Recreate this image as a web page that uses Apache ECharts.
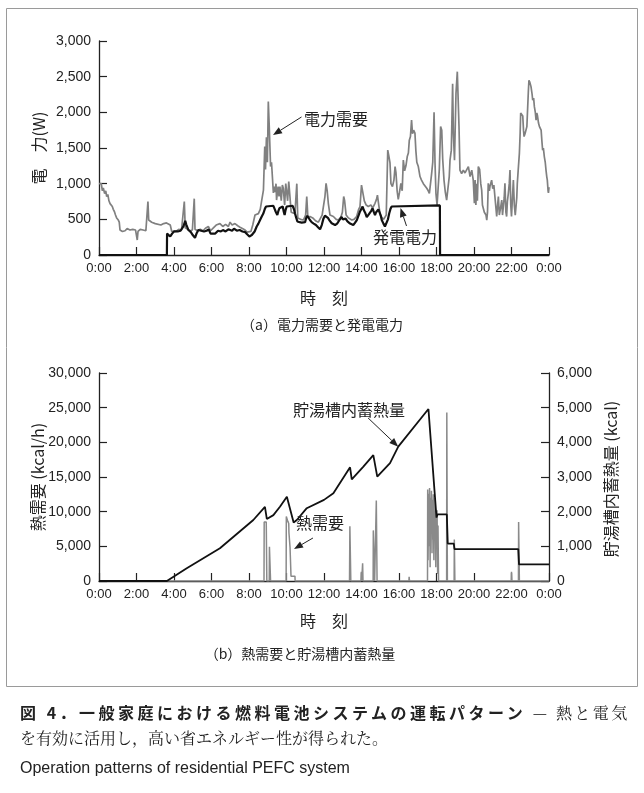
<!DOCTYPE html>
<html>
<head>
<meta charset="utf-8">
<script src="https://cdn.jsdelivr.net/npm/echarts@6/dist/echarts.min.js"></script>
<style>
  html, body { margin: 0; padding: 0; background: #fff; }
  #chart { position: absolute; left: 0; top: 0; width: 644px; height: 793px; }
  .cap { position: absolute; left: 20px; height: 20px; line-height: 20px; font-size: 16px; color: #222;
         white-space: nowrap; font-family: "Noto Sans CJK JP", "Noto Sans", sans-serif; }
  .serif { font-family: "Noto Serif CJK JP", "Noto Sans CJK JP", serif; font-weight: normal; }
  .en { font-family: "Liberation Sans", Arial, Helvetica, sans-serif; }
</style>
</head>
<body>
<div id="chart"></div>
<div class="cap" style="top:702px;"><b style="letter-spacing:3.5px;">図 4．一般家庭における燃料電池システムの運転パターン</b><span class="serif" style="letter-spacing:2.4px;"> — 熱と電気</span></div>
<div class="cap serif" style="top:728px;">を有効に活用し，高い省エネルギー性が得られた。</div>
<div class="cap en" style="top:758px;">Operation patterns of residential PEFC system</div>
<script>
// Tick labels
const timeLabels = ['0:00','2:00','4:00','6:00','8:00','10:00','12:00','14:00','16:00','18:00','20:00','22:00','0:00'];
const powerLabels = ['0','500','1,000','1,500','2,000','2,500','3,000'];
const heatLabels = ['0','5,000','10,000','15,000','20,000','25,000','30,000'];
const storageLabels = ['0','1,000','2,000','3,000','4,000','5,000','6,000'];

// (a) household power demand [hour, W]
const powerDemand = [
  [0.0,1000],[0.05,980],[0.12,1000],[0.18,900],[0.23,940],[0.3,860],[0.36,900],[0.41,820],[0.47,850],
  [0.53,760],[0.59,720],[0.65,700],[0.71,680],[0.76,640],[0.82,610],[0.88,560],[0.94,520],[1.03,490],
  [1.08,460],[1.12,350],[1.25,330],[1.39,340],[1.5,370],[1.65,350],[1.8,360],[1.95,350],[2.01,350],
  [2.04,210],[2.08,330],[2.2,360],[2.35,350],[2.5,340],[2.58,360],[2.61,750],[2.65,490],[2.75,470],
  [2.81,460],[2.9,480],[3.0,440],[3.1,430],[3.3,420],[3.45,440],[3.6,450],[3.7,430],[3.8,420],[3.88,330],
  [3.95,350],[4.1,330],[4.25,360],[4.4,350],[4.5,360],[4.55,750],[4.6,380],[4.7,360],[4.85,340],
  [4.98,350],[5.05,360],[5.08,790],[5.12,360],[5.25,340],[5.4,360],[5.55,340],[5.7,380],[5.83,400],
  [5.95,340],[6.1,380],[6.25,420],[6.45,440],[6.6,400],[6.75,430],[6.9,400],[6.99,460],[7.1,420],
  [7.25,440],[7.4,410],[7.52,390],[7.65,370],[7.79,350],[7.9,320],[8.0,300],[8.1,330],[8.2,420],
  [8.32,560],[8.5,580],[8.6,640],[8.68,770],[8.77,910],[8.84,1520],[8.88,1200],[8.93,1650],[8.98,1300],
  [9.03,2150],[9.08,1800],[9.15,1240],[9.2,1300],[9.23,1280],[9.3,870],[9.35,960],[9.39,880],[9.44,1000],
  [9.47,770],[9.55,960],[9.6,820],[9.65,960],[9.72,760],[9.78,980],[9.83,935],[9.9,700],[9.96,1000],
  [10.01,1005],[10.06,760],[10.12,1030],[10.19,1030],[10.25,600],[10.35,580],[10.45,580],[10.55,1000],
  [10.6,520],[10.75,500],[10.9,490],[11.02,560],[11.08,820],[11.14,520],[11.25,540],[11.4,520],
  [11.55,480],[11.7,460],[11.79,440],[11.9,560],[11.97,680],[12.05,820],[12.11,1005],[12.17,900],
  [12.23,725],[12.32,560],[12.5,540],[12.65,500],[12.76,490],[12.9,530],[12.98,600],[13.05,820],
  [13.1,760],[13.18,560],[13.3,520],[13.48,490],[13.6,500],[13.74,540],[13.85,640],[13.92,680],
  [14.0,980],[14.08,960],[14.15,760],[14.25,700],[14.36,680],[14.5,700],[14.6,660],[14.72,725],
  [14.8,780],[14.85,840],[14.92,700],[15.0,560],[15.08,530],[15.18,500],[15.25,490],[15.32,560],
  [15.4,1470],[15.45,1400],[15.52,1290],[15.57,1000],[15.65,960],[15.73,1050],[15.79,1240],[15.84,1150],
  [15.9,900],[15.96,780],[16.02,870],[16.1,1005],[16.17,900],[16.23,1330],[16.3,1180],[16.37,1250],
  [16.44,1380],[16.5,1430],[16.55,1610],[16.61,1660],[16.67,1890],[16.72,1700],[16.78,1750],[16.85,1710],
  [16.9,1460],[16.95,1300],[17.03,1240],[17.12,1100],[17.2,1050],[17.3,1000],[17.4,980],[17.48,935],
  [17.56,900],[17.62,865],[17.68,1000],[17.74,1140],[17.8,1300],[17.87,2000],[17.92,1300],[17.97,865],
  [18.03,700],[18.1,725],[18.15,1200],[18.22,1800],[18.28,1750],[18.33,1350],[18.4,1050],[18.47,880],
  [18.54,770],[18.63,760],[18.68,1100],[18.72,1330],[18.79,1470],[18.86,2400],[18.9,1700],[18.96,1330],
  [19.04,2270],[19.11,2570],[19.16,2560],[19.2,1800],[19.25,1190],[19.34,1140],[19.43,1190],[19.52,1150],
  [19.61,1130],[19.7,1240],[19.79,1100],[19.88,1190],[19.96,1050],[20.02,725],[20.06,1050],[20.1,700],
  [20.14,1000],[20.18,760],[20.23,1240],[20.3,1200],[20.36,1000],[20.41,910],[20.45,700],[20.5,680],
  [20.55,600],[20.59,580],[20.64,560],[20.68,490],[20.72,600],[20.76,1005],[20.82,900],[20.85,960],
  [20.94,1050],[21.0,930],[21.06,980],[21.12,960],[21.21,540],[21.26,700],[21.3,820],[21.35,560],
  [21.39,540],[21.44,700],[21.48,770],[21.52,560],[21.56,540],[21.61,800],[21.65,1005],[21.7,600],
  [21.74,540],[21.78,750],[21.83,860],[21.88,1000],[21.92,1190],[21.96,700],[22.0,540],[22.05,800],
  [22.1,1050],[22.15,700],[22.2,560],[22.24,540],[22.28,800],[22.31,1005],[22.36,1200],[22.42,1425],
  [22.46,1700],[22.49,1990],[22.55,2000],[22.6,1950],[22.64,1750],[22.67,1660],[22.72,1700],[22.77,1680],
  [22.82,1800],[22.85,1990],[22.9,2300],[22.93,2450],[22.98,2420],[23.04,2360],[23.1,2250],[23.13,2170],
  [23.18,2200],[23.22,2080],[23.27,2000],[23.31,1890],[23.35,1990],[23.38,1960],[23.44,1850],[23.49,1800],
  [23.54,1820],[23.58,1750],[23.62,1600],[23.66,1470],[23.7,1500],[23.75,1380],[23.8,1300],[23.84,1190],
  [23.88,1100],[23.91,1050],[23.95,900],[23.97,870],[24.0,950]
];

// (a) fuel cell output [hour, W]
const powerGenerated = [
  [0,0],[3.62,0],[3.63,300],[3.7,290],[3.8,260],[3.9,300],[4.0,330],[4.1,310],[4.2,330],[4.35,340],
  [4.5,400],[4.6,480],[4.65,430],[4.77,350],[4.9,320],[5.0,280],[5.12,240],[5.2,300],[5.3,350],
  [5.45,340],[5.6,330],[5.74,340],[5.85,360],[5.95,300],[6.05,280],[6.2,300],[6.35,340],[6.5,330],
  [6.61,350],[6.75,330],[6.9,360],[6.97,370],[7.1,340],[7.2,370],[7.35,340],[7.5,350],[7.65,330],
  [7.8,320],[7.9,290],[8.02,260],[8.15,280],[8.3,330],[8.41,400],[8.5,440],[8.59,490],[8.68,540],
  [8.77,585],[8.85,650],[8.91,680],[9.0,690],[9.3,690],[9.36,650],[9.42,610],[9.51,560],[9.57,620],
  [9.62,655],[9.7,630],[9.8,680],[9.85,610],[9.9,560],[9.95,630],[10.01,680],[10.1,690],[10.33,690],
  [10.4,640],[10.45,585],[10.52,520],[10.58,470],[10.7,460],[10.81,455],[10.9,460],[10.99,460],
  [11.05,520],[11.11,550],[11.18,540],[11.25,490],[11.34,460],[11.45,440],[11.57,420],[11.68,390],
  [11.79,360],[11.88,420],[11.97,510],[12.05,550],[12.14,560],[12.21,520],[12.28,490],[12.41,445],
  [12.5,430],[12.59,420],[12.7,440],[12.8,480],[12.94,535],[13.0,500],[13.07,490],[13.15,510],
  [13.25,470],[13.39,440],[13.48,430],[13.56,420],[13.65,450],[13.75,490],[13.85,560],[13.92,610],
  [14.0,650],[14.06,680],[14.12,630],[14.2,590],[14.28,530],[14.36,560],[14.45,580],[14.52,620],
  [14.59,655],[14.66,600],[14.72,560],[14.78,600],[14.85,610],[14.9,640],[14.95,655],[15.02,560],
  [15.08,490],[15.17,440],[15.25,400],[15.3,410],[15.34,420],[15.41,500],[15.48,585],[15.55,650],
  [15.61,680],[15.7,695],[18.18,695],[18.19,0],[24,0]
];

// (b) heat demand [hour, kcal/h]
const heatDemand = [
  [0,0],[8.80,0],[8.81,8500],[8.88,8600],[8.9,8300],[8.92,8500],[8.95,0],[9.08,0],[9.09,4950],[9.14,4950],
  [9.15,0],[9.98,0],[9.99,9300],[10.05,9100],[10.07,8600],[10.12,8300],[10.13,7000],[10.18,6900],
  [10.19,4800],[10.23,4700],[10.24,700],[10.45,700],[10.46,0],[13.36,0],[13.38,7900],[13.41,7900],
  [13.43,0],[13.97,0],[13.99,1340],[14.01,0],[14.05,0],[14.06,2550],[14.08,0],[14.62,0],[14.63,7300],
  [14.68,7400],[14.7,0],[14.78,0],[14.79,11600],[14.82,11600],[14.83,0],[16.53,0],[16.54,620],[16.56,0],
  [17.52,0],[17.53,13200],[17.55,3000],[17.58,12600],[17.6,5000],[17.63,13400],[17.66,2000],[17.68,12000],
  [17.7,8000],[17.73,13000],[17.76,4000],[17.78,11700],[17.8,6000],[17.83,12500],[17.86,3000],[17.88,10000],
  [17.9,7000],[17.93,12000],[17.96,2000],[17.98,9300],[18.0,5000],[18.03,10200],[18.06,1000],[18.08,8000],
  [18.11,0],[18.54,0],[18.55,24300],[18.57,24300],[18.58,0],[18.94,0],[18.95,6000],[18.97,6000],[18.98,0],
  [21.99,0],[22.0,1340],[22.02,0],[22.37,0],[22.38,8500],[22.41,8400],[22.42,0],[24,0]
];

// (b) heat stored in the hot-water tank [hour, kcal]
const storedHeat = [
  [0,0],[3.62,0],[4.68,370],[6.45,945],[8.23,1760],[8.85,2140],[8.95,1790],[9.3,1900],[9.65,2140],
  [10.02,2430],[10.38,1690],[10.55,1760],[11.08,2100],[12.0,2340],[12.5,2530],[13.39,3280],[13.48,2930],
  [14.1,3300],[14.63,3630],[14.84,3010],[15.52,3400],[15.96,3875],[17.57,4960],[18.0,1830],[18.05,1920],
  [18.55,1920],[18.6,1080],[18.92,1080],[18.96,920],[22.36,920],[22.4,480],[24,480]
];

const INK = '#222';
const NUM_FONT = '"Liberation Sans", Arial, Helvetica, sans-serif';
const JP_FONT = '"Noto Sans CJK JP", "Noto Sans", sans-serif';

function timeAxis(gridIndex) {
  return {
    gridIndex, type: 'value', min: 0, max: 24, interval: 2,
    axisLine: { show: true, onZero: false, lineStyle: { color: INK, width: 1.3 } },
    axisTick: { show: true, inside: true, length: 8, lineStyle: { color: INK, width: 1.2 } },
    axisLabel: { color: INK, fontSize: 13, fontFamily: NUM_FONT, margin: 7,
                 formatter: v => timeLabels[Math.round(v / 2)] },
    splitLine: { show: false }
  };
}
function valueAxis(gridIndex, max, step, labels, position) {
  return {
    gridIndex, type: 'value', min: 0, max, interval: step, position,
    axisLine: { show: true, lineStyle: { color: INK, width: 1.3 } },
    axisTick: { show: true, inside: true, length: 8, lineStyle: { color: INK, width: 1.2 } },
    axisLabel: { color: INK, fontSize: 14, fontFamily: NUM_FONT, margin: 8,
                 formatter: v => labels[Math.round(v / step)] },
    splitLine: { show: false }
  };
}

const chart = echarts.init(document.getElementById('chart'), null, { renderer: 'canvas' });

const option = {
  animation: false,
  backgroundColor: '#fff',
  grid: [
    { left: 99, top: 41, width: 450, height: 214 },
    { left: 99, top: 373, width: 450, height: 208 }
  ],
  xAxis: [timeAxis(0), timeAxis(1)],
  yAxis: [
    valueAxis(0, 3000, 500, powerLabels, 'left'),
    valueAxis(1, 30000, 5000, heatLabels, 'left'),
    valueAxis(1, 6000, 1000, storageLabels, 'right')
  ],
  series: [
    { name: '電力需要', type: 'line', xAxisIndex: 0, yAxisIndex: 0, data: powerDemand,
      showSymbol: false, lineStyle: { color: '#808080', width: 1.7 }, z: 2 },
    { name: '発電電力', type: 'line', xAxisIndex: 0, yAxisIndex: 0, data: powerGenerated,
      showSymbol: false, lineStyle: { color: '#111', width: 2.2 }, z: 3 },
    { name: '熱需要', type: 'line', xAxisIndex: 1, yAxisIndex: 1, data: heatDemand,
      showSymbol: false, lineStyle: { color: '#8a8a8a', width: 1.5 }, z: 2 },
    { name: '貯湯槽内蓄熱量', type: 'line', xAxisIndex: 1, yAxisIndex: 2, data: storedHeat,
      showSymbol: false, lineStyle: { color: '#111', width: 1.8 }, z: 3 }
  ]
};
chart.setOption(option);

// Callouts anchored in data coordinates of each panel
const callouts = [
  { text: '電力需要', axes: { xAxisIndex: 0, yAxisIndex: 0 }, at: [12.64, 1914], from: [10.8, 1935], to: [9.28, 1682] },
  { text: '発電電力', axes: { xAxisIndex: 0, yAxisIndex: 0 }, at: [16.32, 252], from: [16.4, 407], to: [16.08, 659] },
  { text: '貯湯槽内蓄熱量', axes: { xAxisIndex: 1, yAxisIndex: 2 }, at: [13.33, 4948], from: [14.35, 4703], to: [15.96, 3875] },
  { text: '熱需要', axes: { xAxisIndex: 1, yAxisIndex: 2 }, at: [11.79, 1673], from: [11.41, 1240], to: [10.4, 923] }
];

function label(text, x, y, size, rot) {
  return {
    type: 'text', x, y, rotation: rot || 0, silent: true, z: 10,
    style: { text, fill: INK, fontSize: size, fontFamily: JP_FONT,
             textAlign: 'center', textVerticalAlign: 'middle', align: 'center', verticalAlign: 'middle' }
  };
}
function arrow(p0, p1) {
  const dx = p1[0] - p0[0], dy = p1[1] - p0[1];
  const len = Math.hypot(dx, dy), ux = dx / len, uy = dy / len;
  const headLen = 9, headHalf = 3.5;
  const bx = p1[0] - ux * headLen, by = p1[1] - uy * headLen;
  return [
    { type: 'line', silent: true, z: 10, shape: { x1: p0[0], y1: p0[1], x2: bx, y2: by },
      style: { stroke: INK, lineWidth: 1 } },
    { type: 'polygon', silent: true, z: 10,
      shape: { points: [p1, [bx - uy * headHalf, by + ux * headHalf], [bx + uy * headHalf, by - ux * headHalf]] },
      style: { fill: INK } }
  ];
}

const graphics = [
  { type: 'rect', silent: true, z: 0, shape: { x: 6.5, y: 8.5, width: 631, height: 678 },
    style: { fill: 'none', stroke: '#9a9a9a', lineWidth: 1 } },
  label('電\u3000力(W)', 39, 148, 16, Math.PI / 2),
  label('時\u3000刻', 324, 298, 16),
  label('（a）電力需要と発電電力', 322, 325, 14),
  label('熱需要 (kcal/h)', 38, 477, 16, Math.PI / 2),
  label('貯湯槽内蓄熱量 (kcal)', 611, 479, 16, Math.PI / 2),
  label('時\u3000刻', 324, 621, 16),
  label('（b）熱需要と貯湯槽内蓄熱量', 300, 654, 14)
];
callouts.forEach(c => {
  const at = chart.convertToPixel(c.axes, c.at);
  const from = chart.convertToPixel(c.axes, c.from);
  const to = chart.convertToPixel(c.axes, c.to);
  graphics.push(label(c.text, at[0], at[1], 16));
  graphics.push(...arrow(from, to));
});
chart.setOption({ graphic: graphics });
</script>
</body>
</html>
